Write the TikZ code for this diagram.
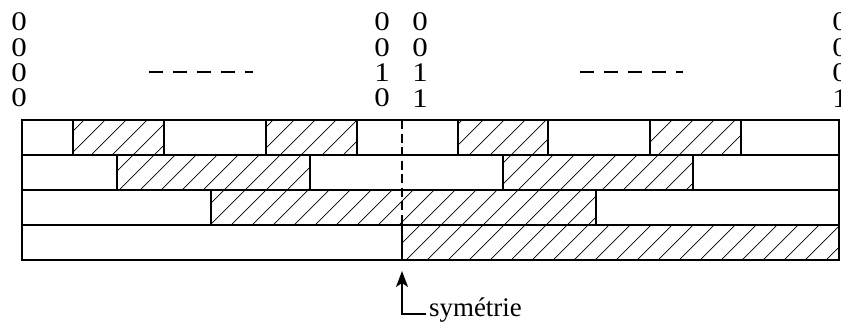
\documentclass[tikz,border=0pt]{standalone}
\usepackage{fontspec}
\setmainfont{Liberation Serif}
\usetikzlibrary{arrows.meta}
\begin{document}
\begin{tikzpicture}[x=1bp,y=-1bp,
  frame/.style={line width=1.8bp},
  hatch/.style={line width=0.7bp},
  bits/.style={align=center, inner sep=0pt, xscale=1.15, font=\fontsize{27}{25.5}\selectfont},
  gap/.style={line width=1.7bp, dash pattern=on 14bp off 10bp},
  axis/.style={line width=1.6bp, dash pattern=on 9bp off 4.5bp},
  pointer/.style={line width=1.6bp, -{Stealth[length=16bp,width=12bp,inset=4bp]}},
]
\useasboundingbox (0,0) rectangle (841,327);

% hatched cells of the four code tracks
\begin{scope}
  \clip (73,120) rectangle (164,155) (266,120) rectangle (357,155)
        (458,120) rectangle (548,155) (650,120) rectangle (741,155)
        (117,155) rectangle (310,190) (503,155) rectangle (693,190)
        (211,190) rectangle (596,225)
        (402,225) rectangle (839,260);
  \foreach \c in {-140,-119,...,860} \draw[hatch] (\c,260) -- (\c+140,120);
\end{scope}

% track outlines
\draw[frame] (22,120) rectangle (839,260);
\foreach \y in {155,190,225} \draw[frame] (22,\y) -- (839,\y);
\foreach \x in {73,164,266,357,458,548,650,741} \draw[frame] (\x,120) -- (\x,155);
\foreach \x in {117,310,503,693} \draw[frame] (\x,155) -- (\x,190);
\foreach \x in {211,596} \draw[frame] (\x,190) -- (\x,225);
\draw[frame] (402,225) -- (402,260);

% axis of symmetry
\draw[axis] (402,120) -- (402,225);

% code words
\node[bits] (b0)  at (19,60)  {0\\0\\0\\0};
\node[bits] (b7)  at (382,60) {0\\0\\1\\0};
\node[bits] (b8)  at (420,60) {0\\0\\1\\1};
\node[bits] (b15) at (840,60) {0\\0\\0\\1};

% omitted code words
\draw[gap] (149,71.7) -- (253,71.7);
\draw[gap] (580,71.7) -- (683,71.7);

% label
\node[font=\fontsize{27}{30}\selectfont, anchor=mid west, inner sep=3bp] (lab) at (426,314) {symétrie};
\coordinate (tip) at (402,271);
\draw[pointer] (lab.mid west) -| (tip);
\end{tikzpicture}
\end{document}
